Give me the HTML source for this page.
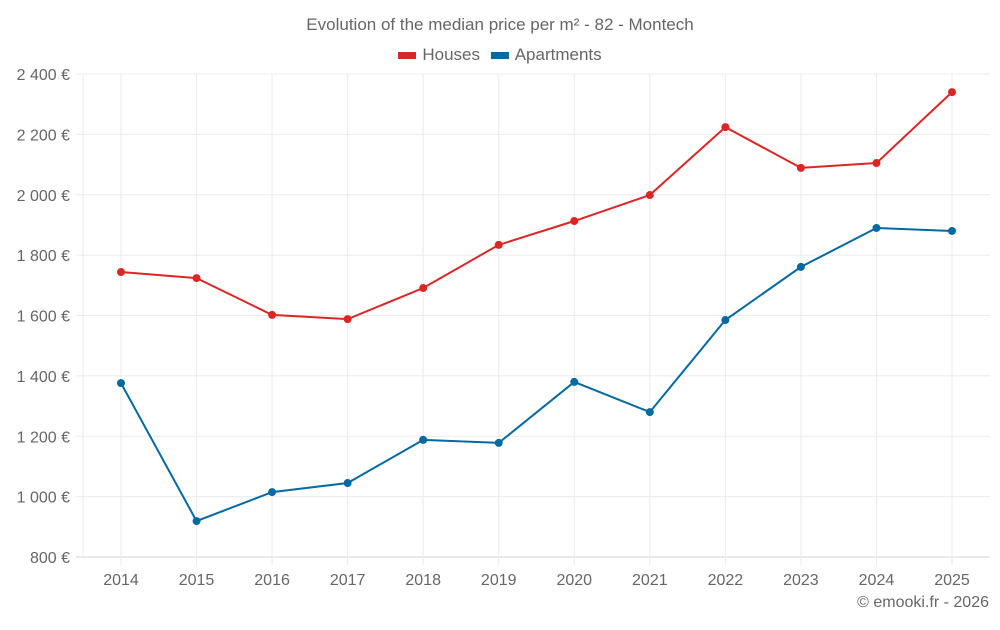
<!DOCTYPE html>
<html><head><meta charset="utf-8"><style>
body{margin:0;background:#fff;width:1000px;height:625px;overflow:hidden;font-family:"Liberation Sans",sans-serif}
text{font-family:"Liberation Sans",sans-serif}
</style></head><body>
<svg id="c" width="1000" height="625"></svg>
<script>
const years=["2014","2015","2016","2017","2018","2019","2020","2021","2022","2023","2024","2025"];
const houses=[1744,1724,1602,1588,1691,1834,1913,1999,2224,2089,2105,2340];
const apartments=[1376,919,1015,1045,1188,1178,1380,1280,1585,1761,1890,1880];
const yTicks=[800,1000,1200,1400,1600,1800,2000,2200,2400];
const yLabels=["800 €","1 000 €","1 200 €","1 400 €","1 600 €","1 800 €","2 000 €","2 200 €","2 400 €"];
const svg=document.getElementById('c');const NS="http://www.w3.org/2000/svg";
const L=83,R=990,T=74,B=557;
const x=i=>121+i*(952-121)/(years.length-1);
const y=v=>B-(v-800)/(2400-800)*(B-T);
function mk(t,a,p){const e=document.createElementNS(NS,t);for(const k in a)e.setAttribute(k,a[k]);(p||svg).appendChild(e);return e;}
const g=mk('g',{});


yTicks.forEach((v,i)=>{
 mk('line',{x1:76,x2:R,y1:y(v),y2:y(v),stroke:i==0?'#d6d6d6':'#ebebeb','stroke-width':1},g);
 const t=mk('text',{x:70,y:y(v)+6,'text-anchor':'end','font-size':16,fill:'#666'});
 t.textContent=yLabels[i];
 
 
});
mk('line',{x1:L,x2:L,y1:T,y2:B,stroke:'#ebebeb'},g);
years.forEach((yr,i)=>{
 mk('line',{x1:x(i),x2:x(i),y1:T,y2:B+8,stroke:'#ebebeb'},g);
 const t=mk('text',{x:x(i),y:585,'text-anchor':'middle','font-size':16,fill:'#666'});
 t.textContent=yr;
 
 
});
function series(vals,col,name){
 const p=mk('polyline',{points:vals.map((v,i)=>x(i)+','+y(v)).join(' '),fill:'none',stroke:col,'stroke-width':2});
 
 
 vals.forEach((v,i)=>{const c=mk('circle',{cx:x(i),cy:y(v),r:4,fill:col});
 
 });
}
series(houses,'#dc2626','houses');
series(apartments,'#0369a1','apartments');
</script>
<div style="position:absolute;top:15px;left:0;width:1000px;text-align:center;font-size:17px;color:#666">Evolution of the median price per m² - 82 - Montech</div>
<div style="position:absolute;top:45px;left:0;width:1000px;text-align:center;font-size:17px;color:#666">
<span><span style="display:inline-block;width:18px;height:7px;background:#dc2626;vertical-align:middle;margin-right:6px"></span>Houses</span>
<span style="margin-left:6px"><span style="display:inline-block;width:18px;height:7px;background:#0369a1;vertical-align:middle;margin-right:6px"></span>Apartments</span></div>
<div style="position:absolute;top:594px;right:11px;font-size:16px;color:#666">© emooki.fr - 2026</div>
</body></html>
